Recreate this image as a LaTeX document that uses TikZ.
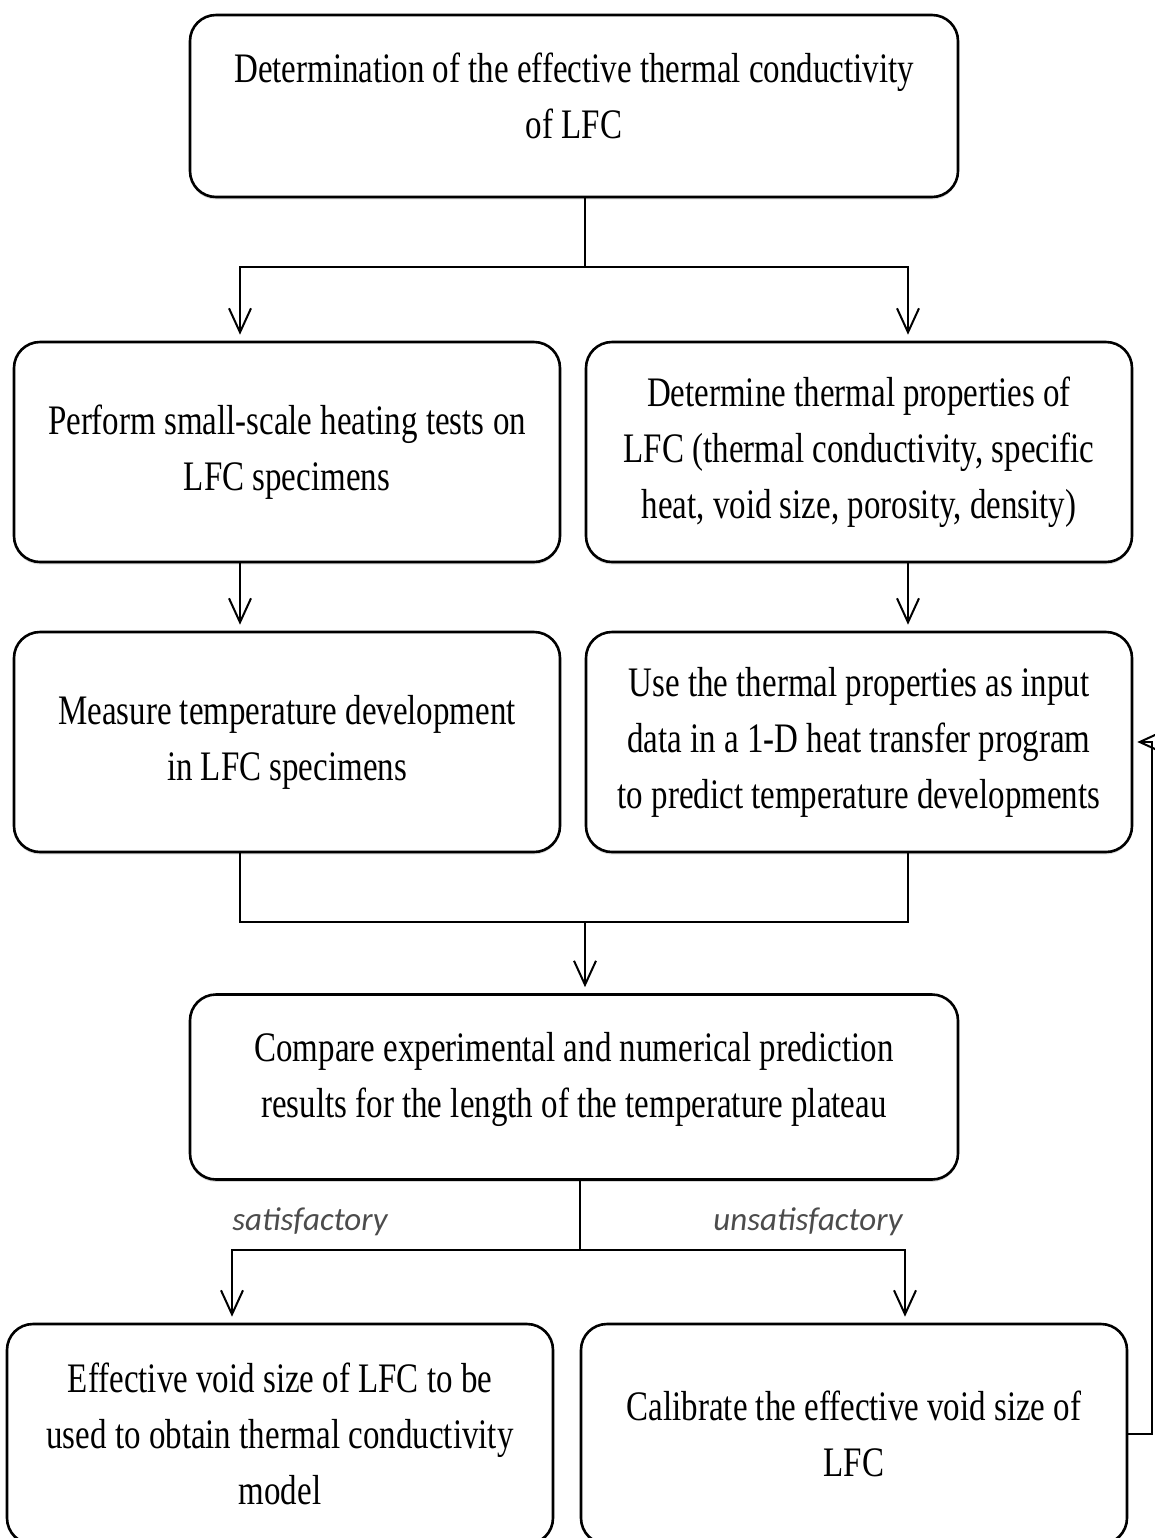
\documentclass[tikz,border=0pt]{standalone}
\usepackage{fontspec}
\setmainfont[FakeStretch=0.785]{Liberation Serif}
\newfontfamily\lblfont{Carlito}
\usetikzlibrary{arrows.meta,shadows}
\newcommand{\boxtext}{\fontsize{21}{28}\selectfont}
\newcommand{\lbltext}{\lblfont\itshape\fontsize{16.5}{18}\selectfont}

\begin{document}
\begin{tikzpicture}[x=0.5pt,y=-0.5pt,
  box/.style={draw,fill=white,line width=1.3pt,rounded corners=13pt,align=center,inner sep=0pt,font=\boxtext,
    drop shadow={shadow xshift=0pt,shadow yshift=-1.2pt,opacity=0.3}},
  wide/.style={box,minimum width=384pt,minimum height=91pt},
  half/.style={box,minimum width=273pt,minimum height=110pt},
  link/.style={line width=1pt},
  arr/.style={link,-{Straight Barb[length=12pt,width=11pt]},shorten >=3pt},
  lbl/.style={font=\lbltext,text=black!70}]
\useasboundingbox (0,0) rectangle (1155,1538);
% boxes
\node[wide,text depth=10pt] (det) at (574,106) {Determination of the effective thermal conductivity\\of LFC};
\node[half] (lheat) at (287,452) {Perform small-scale heating tests on\\LFC specimens};
\node[half] (rprop) at (859,452) {Determine thermal properties of\\LFC (thermal conductivity, specific\\heat, void size, porosity, density)};
\node[half] (lmeas) at (287,742) {Measure temperature development\\in LFC specimens};
\node[half] (rinput) at (859,742) {Use the thermal properties as input\\data in a 1-D heat transfer program\\to predict temperature developments};
\node[wide,minimum height=92.5pt,text depth=12pt] (cmp) at (574,1087) {Compare experimental and numerical prediction\\results for the length of the temperature plateau};
\node[half] (lsat) at (280,1434) {Effective void size of LFC to be\\used to obtain thermal conductivity\\model};
\node[half] (rcal) at (854,1434) {Calibrate the effective void size of\\LFC};
% columns and forks
\coordinate (cl) at (240,0);
\coordinate (cr) at (908,0);
\coordinate (fork1) at (585,267);
\coordinate (join) at (585,922);
\coordinate (fork2) at (580,1250);
\coordinate (loop) at (1152,1434);
% connectors
\draw[link] (det.south -| fork1) -- (fork1);
\draw[arr] (fork1) -| (lheat.north -| cl);
\draw[arr] (fork1) -| (rprop.north -| cr);
\draw[arr] (lheat.south -| cl) -- (lmeas.north -| cl);
\draw[arr] (rprop.south -| cr) -- (rinput.north -| cr);
\draw[link] (lmeas.south -| cl) |- (join);
\draw[link] (rinput.south -| cr) |- (join);
\draw[arr] (join) -- (cmp.north -| join);
\draw[link] (cmp.south -| fork2) -- (fork2);
\draw[arr] (fork2) -| (lsat.north -| 232,0);
\draw[arr] (fork2) -| (rcal.north -| 905,0);
\draw[arr,shorten >=2pt] (rcal.east) -- (loop) |- (rinput.east);
% branch labels
\node[lbl] (sat) at (310,1222) {satisfactory};
\node[lbl] (unsat) at (808,1222) {unsatisfactory};
\end{tikzpicture}
\end{document}
